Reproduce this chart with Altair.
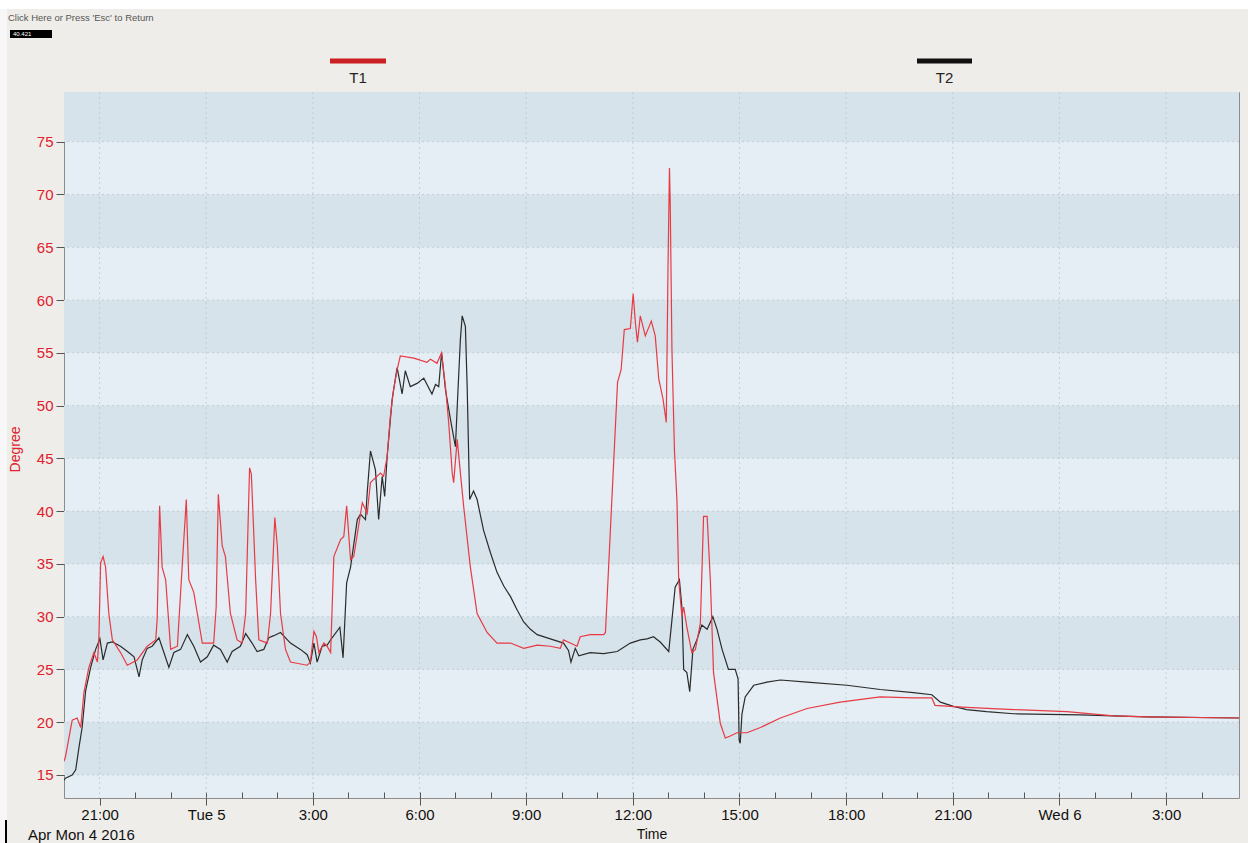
import altair as alt
import pandas as pd

# ---------------------------------------------------------------- data
START = pd.Timestamp("2016-04-04 20:00", tz="UTC")
SPAN_HOURS = 33.05

# hours after START, degrees
T1_HOURS = [0.00, 0.04, 0.23, 0.37, 0.47, 0.56, 0.70, 0.84, 0.94, 0.98, 1.03, 1.10, 1.17, 1.26, 1.36,
            1.59, 1.78, 2.06, 2.34, 2.58, 2.62, 2.69, 2.76, 2.86, 3.00, 3.19, 3.33, 3.44, 3.51, 3.65,
            3.75, 3.89, 4.21, 4.28, 4.34, 4.45, 4.54, 4.68, 4.87, 5.01, 5.11, 5.22, 5.27, 5.39, 5.48,
            5.72, 5.81, 5.93, 6.00, 6.09, 6.23, 6.37, 6.84, 6.93, 7.03, 7.10, 7.17, 7.31, 7.40, 7.50,
            7.59, 7.78, 7.87, 7.95, 8.06, 8.15, 8.39, 8.53, 8.62, 8.90, 8.99, 9.09, 9.18, 9.27, 9.37,
            9.46, 9.84, 10.21, 10.31, 10.49, 10.62, 10.73, 10.82, 10.92, 10.96, 11.06, 11.15, 11.24,
            11.43, 11.62, 11.90, 12.18, 12.56, 12.93, 13.31, 13.68, 13.96, 14.05, 14.24, 14.43, 14.52,
            14.80, 15.18, 15.23, 15.41, 15.57, 15.67, 15.76, 15.93, 16.01, 16.07, 16.13, 16.21, 16.35,
            16.52, 16.63, 16.73, 16.85, 16.94, 16.99, 17.03, 17.05, 17.10, 17.17, 17.24, 17.29, 17.38,
            17.43, 17.52, 17.66, 17.76, 17.90, 17.99, 18.09, 18.18, 18.27, 18.46, 18.60, 18.74, 18.93,
            19.21, 19.59, 20.15, 20.90, 21.83, 22.96, 23.89, 24.41, 24.50, 25.39, 26.71, 28.21, 29.52,
            30.46, 33.05]
T1_VALUES = [16.3, 16.7, 20.2, 20.4, 19.5, 22.8, 25.2, 26.6, 25.7, 27.8, 35.1, 35.7, 34.7, 30.3, 27.8,
             26.6, 25.4, 25.9, 27.2, 27.8, 29.7, 40.5, 34.7, 33.5, 26.9, 27.2, 35.1, 41.1, 33.5, 32.3,
             30.3, 27.5, 27.5, 30.9, 41.6, 36.7, 35.7, 30.3, 27.8, 27.5, 30.3, 44.1, 43.5, 33.5, 27.8,
             27.5, 30.3, 39.4, 36.7, 30.3, 26.9, 25.7, 25.4, 25.7, 28.6, 28.1, 26.6, 27.5, 27.2, 26.6,
             35.7, 37.3, 37.6, 40.5, 35.4, 35.7, 40.8, 39.8, 42.7, 43.6, 43.3, 45.2, 49.0, 51.5, 53.4,
             54.7, 54.5, 54.1, 54.4, 54.0, 55.0, 51.8, 48.4, 43.6, 42.7, 46.8, 43.6, 40.5,
             34.7, 30.3, 28.5, 27.5, 27.5, 27.0, 27.3, 27.2, 27.0, 27.8, 27.5, 27.2, 28.1,
             28.3, 28.3, 28.5, 41.1, 52.2, 53.4, 57.2, 57.3, 60.6, 57.9, 56.0, 58.5, 56.6,
             58.0, 56.6, 52.5, 50.6, 48.4, 63.2, 72.5, 69.6, 55.3, 45.8, 41.1, 33.5, 30.0,
             30.9, 29.0, 26.6, 26.9, 29.4, 39.5, 39.5, 33.5, 24.7, 19.9, 18.5, 18.7, 19.0,
             19.0, 19.5, 20.4, 21.3, 21.9, 22.4, 22.3, 22.3, 21.6, 21.4, 21.2, 21.0, 20.6,
             20.5, 20.4]

T2_HOURS = [0.00, 0.04, 0.23, 0.33, 0.42, 0.51, 0.61, 0.75, 0.89, 1.01, 1.10, 1.22, 1.36, 1.59, 1.82,
            1.97, 2.11, 2.20, 2.34, 2.48, 2.67, 2.81, 2.95, 3.09, 3.28, 3.47, 3.65, 3.84, 4.03, 4.21,
            4.40, 4.59, 4.73, 4.96, 5.11, 5.29, 5.43, 5.62, 5.76, 5.90, 6.09, 6.37, 6.65, 6.84, 6.93,
            7.03, 7.12, 7.26, 7.40, 7.54, 7.76, 7.85, 7.95, 8.06, 8.25, 8.34, 8.48, 8.53, 8.62, 8.76,
            8.85, 8.95, 9.02, 9.09, 9.23, 9.37, 9.51, 9.60, 9.74, 9.93, 10.12, 10.21, 10.35, 10.45,
            10.54, 10.62, 10.73, 10.87, 11.01, 11.07, 11.15, 11.20, 11.29, 11.34, 11.41, 11.52, 11.62,
            11.80, 11.99, 12.18, 12.37, 12.56, 12.75, 12.93, 13.12, 13.31, 13.68, 14.05, 14.19, 14.26,
            14.38, 14.48, 14.80,
            15.18, 15.56, 15.93, 16.21, 16.40, 16.58, 16.77, 17.01, 17.10, 17.19, 17.31, 17.38, 17.43,
            17.52, 17.60, 17.69, 17.80, 17.94, 18.09, 18.25, 18.37, 18.51, 18.69, 18.88, 18.96, 18.99,
            19.02, 19.07, 19.16, 19.40, 19.77, 20.15, 20.90, 22.02, 22.96, 23.89, 24.41, 24.65, 25.02,
            25.39, 25.95, 26.71, 28.58, 30.46, 33.05]
T2_VALUES = [14.5, 14.7, 15.0, 15.5, 17.6, 19.5, 23.0, 25.2, 26.9, 27.9, 25.9, 27.5, 27.6, 27.2, 26.6,
             26.2, 24.3, 25.9, 27.0, 27.2, 28.0, 26.6, 25.2, 26.6, 26.9, 28.3, 27.2, 25.7, 26.2, 27.3,
             26.9, 25.7, 26.7, 27.2, 28.4, 27.5, 26.7, 26.9, 28.0, 28.2, 28.5, 27.5, 26.9, 26.4, 25.6,
             27.5, 25.7, 27.2, 27.3, 28.0, 29.0, 26.1, 33.2, 34.7, 39.2, 39.7, 39.2, 41.8, 45.7, 43.9,
             39.2, 43.3, 41.4, 45.2, 50.6, 53.6, 51.1, 53.3, 51.8, 52.1, 52.6, 52.0, 51.1, 52.0,
             51.8, 55.0, 51.5, 48.7, 46.1, 50.6, 56.3, 58.5, 57.5, 51.8, 41.1, 41.9, 41.1,
             38.2, 36.1, 34.2, 32.9, 31.9, 30.6, 29.5, 28.8, 28.3, 27.9, 27.5, 26.8, 25.7,
             27.0, 26.3, 26.6,
             26.5, 26.7, 27.5, 27.8, 27.9, 28.1, 27.6, 26.7, 29.7, 32.8, 33.5, 30.9, 25.0,
             24.7, 22.9, 26.9, 27.8, 29.2, 28.8, 30.0, 28.8, 26.9, 25.0, 25.0, 24.1, 18.3,
             18.0, 20.8, 22.4, 23.5, 23.8, 24.0, 23.8, 23.5, 23.1, 22.8, 22.6, 21.9, 21.5,
             21.2, 21.0, 20.8, 20.7, 20.5, 20.4]

SERIES = ["T1", "T2"]
SERIES_COLORS = ["#e83a44", "#2b2b2b"]
LEGEND_COLORS = ["#cc1f24", "#111111"]

Y_TICKS = [15, 20, 25, 30, 35, 40, 45, 50, 55, 60, 65, 70, 75]
Y_DOMAIN = [12.82, 79.71]
BAND_LOWS = [15, 25, 35, 45, 55, 65, 75]
MAJOR_TICK_HOURS = [1, 4, 7, 10, 13, 16, 19, 22, 25, 28, 31]
MINOR_TICK_HOURS = list(range(2, 33))

# ---------------------------------------------------------------- helpers
FONT = "Liberation Sans"
W, H = 1175, 706
LIGHT_BAND = "#e4eef4"
DARK_BAND = "#d6e3ea"
GRID = "#b3bec6"
RED_TEXT = "#e0202c"


def iso(h):
    return (START + pd.Timedelta(hours=h)).strftime("%Y-%m-%dT%H:%M:%SZ")


def ms(h):
    return int((START + pd.Timedelta(hours=h)).value // 10**6)


t1_df = pd.DataFrame({"time": [iso(h) for h in T1_HOURS], "value": T1_VALUES})
t2_df = pd.DataFrame({"time": [iso(h) for h in T2_HOURS], "value": T2_VALUES})
band_df = pd.DataFrame({"lo": BAND_LOWS, "hi": [b + 5 for b in BAND_LOWS]})
ygrid_df = pd.DataFrame({"v": Y_TICKS})
xgrid_df = pd.DataFrame({"t": [iso(h) for h in MAJOR_TICK_HOURS]})
one = pd.DataFrame({"k": [0]})

x_scale = alt.Scale(type="utc", domain=[ms(0), ms(SPAN_HOURS)])
y_scale = alt.Scale(domain=Y_DOMAIN, nice=False, zero=False)

label_expr = ("utchours(datum.value) == 0 ? utcFormat(datum.value, '%a %-d') "
              ": utcFormat(datum.value, '%-H:%M')")

major_axis = alt.Axis(
    orient="bottom", values=[ms(h) for h in MAJOR_TICK_HOURS], labelExpr=label_expr,
    tickSize=7, tickColor="#555555", tickWidth=1, domain=False, grid=False,
    labelFontSize=15, labelColor="#111111", labelPadding=2, labelFont=FONT,
    title="Time", titleFontSize=14, titleFontWeight="normal", titleColor="#111111",
    titleFont=FONT, titlePadding=5,
)
minor_axis = alt.Axis(
    orient="bottom", values=[ms(h) for h in MINOR_TICK_HOURS], labels=False,
    tickSize=6, tickColor="#555555", tickWidth=1, offset=-6, domain=False, grid=False,
    title=None,
)
y_axis = alt.Axis(
    orient="left", values=Y_TICKS, tickSize=8, tickColor="#555555", domain=False, grid=False,
    labelFontSize=15, labelColor=RED_TEXT, labelPadding=3, labelFont=FONT,
    title="Degree", titleFontSize=14, titleFontWeight="normal", titleColor=RED_TEXT,
    titleFont=FONT, titleX=-49, titleY=357, titleAngle=270, titleAlign="center",
    titleBaseline="middle",
)

# ---------------------------------------------------------------- plot layers
bands = alt.Chart(band_df).mark_rect(color=DARK_BAND, clip=True).encode(
    y=alt.Y("lo:Q", scale=y_scale, axis=None), y2="hi:Q"
)
ygrid = alt.Chart(ygrid_df).mark_rule(color=GRID, strokeDash=[2, 3], strokeWidth=1, opacity=0.6).encode(
    y=alt.Y("v:Q", scale=y_scale, axis=None)
)
xgrid = alt.Chart(xgrid_df).mark_rule(color=GRID, strokeDash=[2, 3], strokeWidth=1, opacity=0.6).encode(
    x=alt.X("t:T", scale=x_scale, axis=None)
)
t2_line = alt.Chart(t2_df).mark_line(color=SERIES_COLORS[1], strokeWidth=1.2, clip=True).encode(
    x=alt.X("time:T", scale=x_scale, axis=minor_axis),
    y=alt.Y("value:Q", scale=y_scale, axis=None),
)
t1_line = alt.Chart(t1_df).mark_line(color=SERIES_COLORS[0], strokeWidth=1.2, clip=True).encode(
    x=alt.X("time:T", scale=x_scale, axis=major_axis),
    y=alt.Y("value:Q", scale=y_scale, axis=y_axis),
)

# ---------------------------------------------------------------- legend and window text
LEGEND_X = [(266, 322), (853, 908)]
legend_layers = []
for name, col, (xa, xb) in zip(SERIES, LEGEND_COLORS, LEGEND_X):
    legend_layers.append(
        alt.Chart(one).mark_rule(color=col, strokeWidth=5).encode(
            x=alt.value(xa), x2=alt.value(xb), y=alt.value(-31)
        )
    )
    legend_layers.append(
        alt.Chart(one).mark_text(text=name, font=FONT, fontSize=15, color="#222222",
                                 align="center", baseline="middle").encode(
            x=alt.value((xa + xb) / 2), y=alt.value(-14)
        )
    )

top_strip = alt.Chart(one).mark_rect(color="#ffffff").encode(
    x=alt.value(-64), x2=alt.value(1184), y=alt.value(-92), y2=alt.value(-83)
)
left_strip = alt.Chart(one).mark_rect(color="#f7f7f7").encode(
    x=alt.value(-64), x2=alt.value(-57), y=alt.value(-83), y2=alt.value(751)
)
edge_line = alt.Chart(one).mark_rule(color="#000000", strokeWidth=2).encode(
    x=alt.value(-58), y=alt.value(728), y2=alt.value(751)
)
return_text = alt.Chart(one).mark_text(
    text="Click Here or Press 'Esc' to Return", font=FONT, fontSize=9.5, color="#555555",
    align="left", baseline="middle"
).encode(x=alt.value(-56), y=alt.value(-74))
value_box = alt.Chart(one).mark_rect(color="#000000").encode(
    x=alt.value(-54), x2=alt.value(-12), y=alt.value(-62), y2=alt.value(-54)
)
value_text = alt.Chart(one).mark_text(
    text="40.421", font=FONT, fontSize=6, color="#ffffff", align="left", baseline="middle"
).encode(x=alt.value(-51), y=alt.value(-58))
date_text = alt.Chart(one).mark_text(
    text="Apr Mon 4 2016", font=FONT, fontSize=15, color="#111111", align="left", baseline="middle"
).encode(x=alt.value(-36), y=alt.value(743))

chart = alt.layer(
    bands, ygrid, xgrid, t2_line, t1_line,
    top_strip, left_strip, edge_line, return_text, value_box, value_text, date_text,
    *legend_layers,
).resolve_axis(
    x="independent", y="independent"
).properties(
    width=W, height=H,
    autosize=alt.AutoSizeParams(type="none"),
    padding={"left": 64, "top": 92, "right": 9, "bottom": 45},
    background="#efede9",
).configure_view(
    fill=LIGHT_BAND, stroke="#8c8c8c", strokeWidth=1
)

chart.save("out.html", embed_options={"renderer": "svg", "actions": False})
